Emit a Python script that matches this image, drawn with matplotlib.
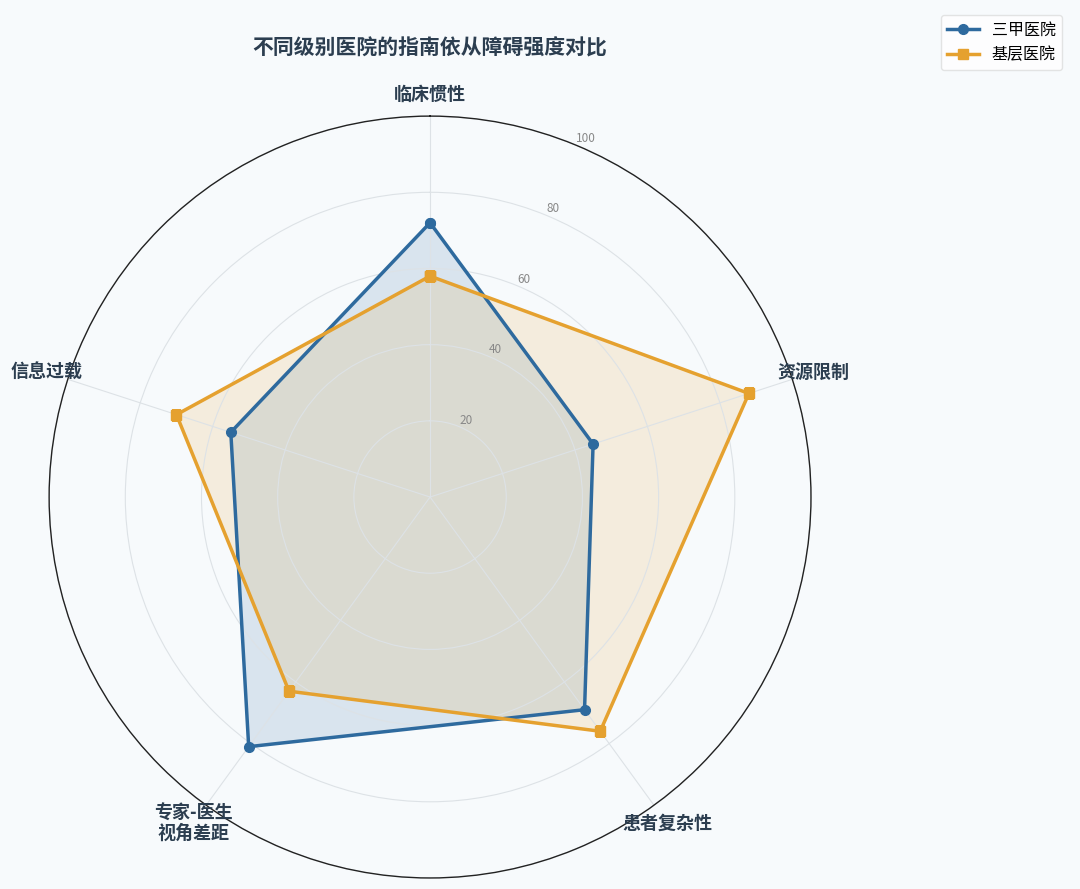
import numpy as np
import matplotlib
matplotlib.use("Agg")
import matplotlib.pyplot as plt

plt.rcParams['font.family'] = ['Noto Sans CJK SC', 'DejaVu Sans']

# data
categories = ['临床惯性', '资源限制', '患者复杂性', '专家-医生\n视角差距', '信息过载']
tier3 = [72, 45, 69, 81, 55]      # 三甲医院
primary = [58, 88, 76, 63, 70]    # 基层医院
series_names = ['三甲医院', '基层医院']
rticks = [20, 40, 60, 80, 100]

bg = '#f7fafc'
navy = '#2c3e50'
blue = '#2e6a9e'
orange = '#e5a12f'

n = len(categories)
angles = np.linspace(0, 2 * np.pi, n, endpoint=False).tolist()
angles_c = angles + angles[:1]

fig = plt.figure(figsize=(10.8, 8.89), dpi=100, facecolor=bg)
ax = fig.add_axes([0.0454, 0.0124, 0.7056, 0.857], projection='polar')
ax.set_facecolor(bg)
ax.set_theta_offset(np.pi / 2)
ax.set_theta_direction(-1)

for vals, name, col, mk in [(tier3, series_names[0], blue, 'o'),
                            (primary, series_names[1], orange, 's')]:
    v = vals + vals[:1]
    ax.plot(angles_c, v, color=col, linewidth=2.5, marker=mk, markersize=7, label=name)
    ax.fill(angles_c, v, color=col, alpha=0.15)

ax.set_ylim(0, 100)
ax.set_yticks(rticks)
ax.set_yticklabels([str(t) for t in rticks], color='#888888', fontsize=8.5)
ax.set_rlabel_position(22.5)
ax.set_xticks(angles)
ax.set_xticklabels([])
# category labels centred just outside the outer ring
for a, lab in zip(angles, categories):
    ax.text(a, 105.8, lab, ha='center', va='center', fontsize=13,
            fontweight='bold', color=navy, linespacing=1.05, clip_on=False)
ax.grid(color='#dde2e6', linewidth=0.8)
ax.spines['polar'].set_color('#222222')
ax.spines['polar'].set_linewidth(1.0)

fig.text(430 / 1080, 1 - 48 / 889, '不同级别医院的指南依从障碍强度对比',
         ha='center', va='center', fontsize=15, fontweight='bold', color=navy)

fig.legend(loc='upper right', bbox_to_anchor=(1070 / 1080, 1 - 7 / 889),
           fontsize=11.5, frameon=True, facecolor='white', edgecolor='#dddddd')

fig.savefig('out.png', dpi=100, facecolor=bg)
